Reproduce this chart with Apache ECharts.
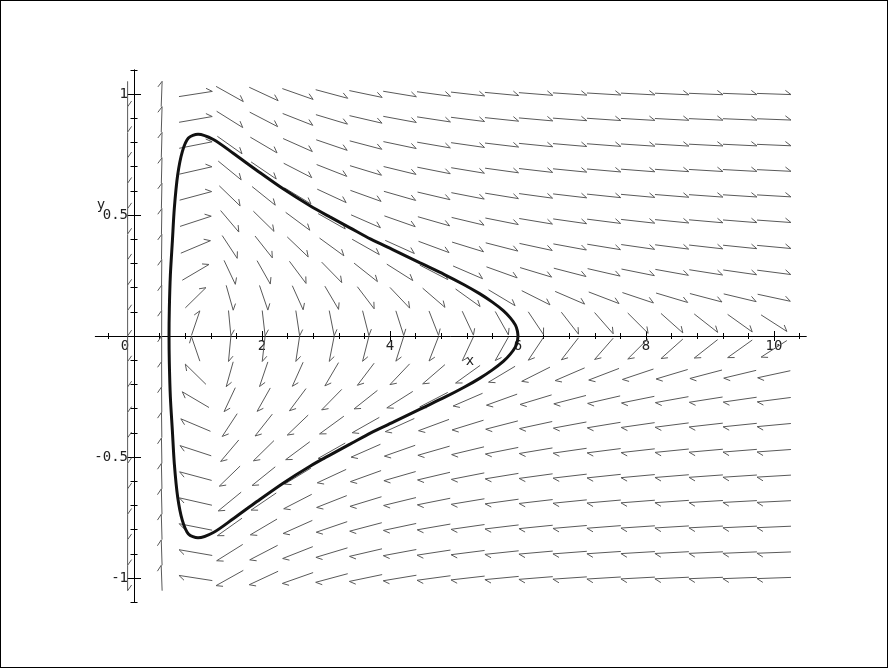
<!DOCTYPE html>
<html>
<head>
<meta charset="utf-8">
<script src="https://cdn.jsdelivr.net/npm/echarts@6/dist/echarts.min.js"></script>
<style>
  html, body { margin: 0; padding: 0; background: #fff; }
  #chart { position: absolute; left: 0; top: 0; width: 888px; height: 668px; }
  #frame { position: absolute; left: 0; top: 0; width: 888px; height: 668px; box-sizing: border-box; border: 1px solid #000; pointer-events: none; }
</style>
</head>
<body>
<div id="chart"></div>
<div id="frame"></div>
<script>
// direction field grid (20 x 20)
const colX = [-0.1, 0.432, 0.963, 1.495, 2.026, 2.558, 3.089, 3.621, 4.153, 4.684, 5.216, 5.747, 6.279, 6.811, 7.342, 7.874, 8.405, 8.937, 9.468, 10.0]
const rowY = [-1, -0.895, -0.789, -0.684, -0.579, -0.474, -0.368, -0.263, -0.158, -0.053, 0.053, 0.158, 0.263, 0.368, 0.474, 0.579, 0.684, 0.789, 0.895, 1]
// vertical component of the field per column (horizontal component = y)
const colDy = [-1100, 7.07, 0.041, -0.148, -0.123, -0.093, -0.071, -0.055, -0.044, -0.036, -0.030, -0.025, -0.021, -0.018, -0.016, -0.014, -0.0125, -0.011, -0.010, -0.009]

// closed orbit
const orbitX = [6.0, 5.99, 5.96, 5.88, 5.77, 5.6, 5.4, 5.15, 4.85, 4.47, 4.05, 3.7, 3.375, 3.06, 2.75, 2.33, 1.92, 1.55, 1.24, 1.0, 0.85, 0.755, 0.682, 0.63, 0.599, 0.568, 0.552, 0.547,
  0.552, 0.568, 0.599, 0.63, 0.682, 0.755, 0.85, 1.0, 1.24, 1.55, 1.92, 2.33, 2.75, 3.06, 3.375, 3.7, 4.05, 4.47, 4.85, 5.15, 5.4, 5.6, 5.77, 5.88, 5.96, 5.99, 6.0]
const orbitY = [0, 0.021, 0.045, 0.075, 0.105, 0.14, 0.175, 0.213, 0.254, 0.302, 0.356, 0.40, 0.447, 0.492, 0.538, 0.608, 0.684, 0.755, 0.812, 0.834, 0.818, 0.762, 0.665, 0.528, 0.39, 0.252, 0.114, 0,
  -0.114, -0.252, -0.39, -0.528, -0.665, -0.762, -0.818, -0.834, -0.812, -0.755, -0.684, -0.608, -0.538, -0.492, -0.447, -0.40, -0.356, -0.302, -0.254, -0.213, -0.175, -0.14, -0.105, -0.075, -0.045, -0.021, 0]

// axis ticks
const xLabels = [0, 2, 4, 6, 8, 10]
const xMajor = [2, 4, 6, 8, 10]
const xMinor = [-0.4, 0.4, 0.8, 1.2, 1.6, 2.4, 2.8, 3.2, 3.6, 4.4, 4.8, 5.2, 5.6, 6.4, 6.8, 7.2, 7.6, 8.4, 8.8, 9.2, 9.6, 10.4]
const yLabels = [-1, -0.5, 0.5, 1]
const yMajor = [-1, -0.5, 0.5, 1]
const yMinor = [-1.1, -0.9, -0.8, -0.7, -0.6, -0.4, -0.3, -0.2, -0.1, 0.1, 0.2, 0.3, 0.4, 0.6, 0.7, 0.8, 0.9, 1.1]

const X_MIN = -0.605, X_MAX = 10.505
const Y_MIN = -1.1, Y_MAX = 1.1
const GRID = { left: 95.3, top: 69.8, width: 711, height: 532.4 }
const FONT = 'DejaVu Sans Mono'

// axes cross at the origin: shift them into the plot
const xOffset = -(0 - Y_MIN) / (Y_MAX - Y_MIN) * GRID.height
const yOffset = -(0 - X_MIN) / (X_MAX - X_MIN) * GRID.width

const chart = echarts.init(document.getElementById('chart'))

const fieldData = []
colX.forEach((x, i) => {
  rowY.forEach((y) => {
    fieldData.push([x, y, y, colDy[i]])
  })
})

const cellW = colX[1] - colX[0]
const cellH = rowY[1] - rowY[0]

function renderArrow(params, api) {
  const c = api.coord([api.value(0), api.value(1)])
  const cell = api.size([cellW, cellH])
  const u = api.value(2) / cellW
  const v = api.value(3) / cellH
  const n = Math.sqrt(u * u + v * v) || 1
  const px = (u / n) * cell[0]
  const py = -(v / n) * cell[1]
  const tail = [c[0] - px / 2, c[1] - py / 2]
  const tip = [c[0] + px / 2, c[1] + py / 2]
  const a = Math.atan2(-py, -px) + 35 * Math.PI / 180
  const barb = [tip[0] + 7 * Math.cos(a), tip[1] + 7 * Math.sin(a)]
  return {
    type: 'polyline',
    shape: { points: [tail, tip, barb] },
    style: { stroke: '#595959', lineWidth: 1, fill: null }
  }
}

function xAxisDef(ticks, inside, len, main) {
  return {
    type: 'value', min: X_MIN, max: X_MAX, position: 'bottom', offset: xOffset,
    axisLine: { show: main, onZero: false, lineStyle: { color: '#000', width: 1 } },
    axisTick: { show: true, inside: inside, length: len, customValues: ticks, lineStyle: { color: '#000', width: 1 } },
    axisLabel: main ? {
      show: true, customValues: xLabels, margin: 3,
      color: '#222', fontFamily: FONT, fontSize: 14,
      formatter: (v) => v === 0 ? '{z|0}' : String(v),
      rich: { z: { fontFamily: FONT, fontSize: 14, color: '#222', padding: [0, 18, 0, 0] } }
    } : { show: false },
    splitLine: { show: false }
  }
}

function yAxisDef(ticks, inside, len, main) {
  return {
    type: 'value', min: Y_MIN, max: Y_MAX, position: 'left', offset: yOffset,
    axisLine: { show: main, onZero: false, lineStyle: { color: '#000', width: 1 } },
    axisTick: { show: true, inside: inside, length: len, customValues: ticks, lineStyle: { color: '#000', width: 1 } },
    axisLabel: main ? {
      show: true, customValues: yLabels, margin: 6,
      color: '#222', fontFamily: FONT, fontSize: 14
    } : { show: false },
    splitLine: { show: false }
  }
}

const option = {
  animation: false,
  backgroundColor: '#fff',
  grid: Object.assign({ outerBoundsMode: 'none', containLabel: false }, GRID),
  xAxis: [
    xAxisDef(xMajor, false, 5, true),
    xAxisDef(xMajor, true, 5, false),
    xAxisDef(xMinor, false, 3, false),
    xAxisDef(xMinor, true, 3, false)
  ],
  yAxis: [
    yAxisDef(yMajor, false, 7, true),
    yAxisDef(yMajor, true, 7, false),
    yAxisDef(yMinor, false, 3.5, false),
    yAxisDef(yMinor, true, 3.5, false)
  ],
  graphic: [
    { type: 'text', x: 470, y: 361, style: { text: 'x', font: '14px ' + FONT, fill: '#222', align: 'center', verticalAlign: 'middle' } },
    { type: 'text', x: 101, y: 205, style: { text: 'y', font: '14px ' + FONT, fill: '#222', align: 'center', verticalAlign: 'middle' } }
  ],
  series: [
    {
      type: 'custom',
      xAxisIndex: 0, yAxisIndex: 0,
      renderItem: renderArrow,
      data: fieldData,
      encode: { x: 0, y: 1 },
      clip: false,
      z: 2
    },
    {
      type: 'line',
      xAxisIndex: 0, yAxisIndex: 0,
      data: orbitX.map((x, i) => [x, orbitY[i]]),
      showSymbol: false,
      smooth: 0.3,
      lineStyle: { color: '#111', width: 3 },
      z: 3
    }
  ]
}

chart.setOption(option)
</script>
</body>
</html>
